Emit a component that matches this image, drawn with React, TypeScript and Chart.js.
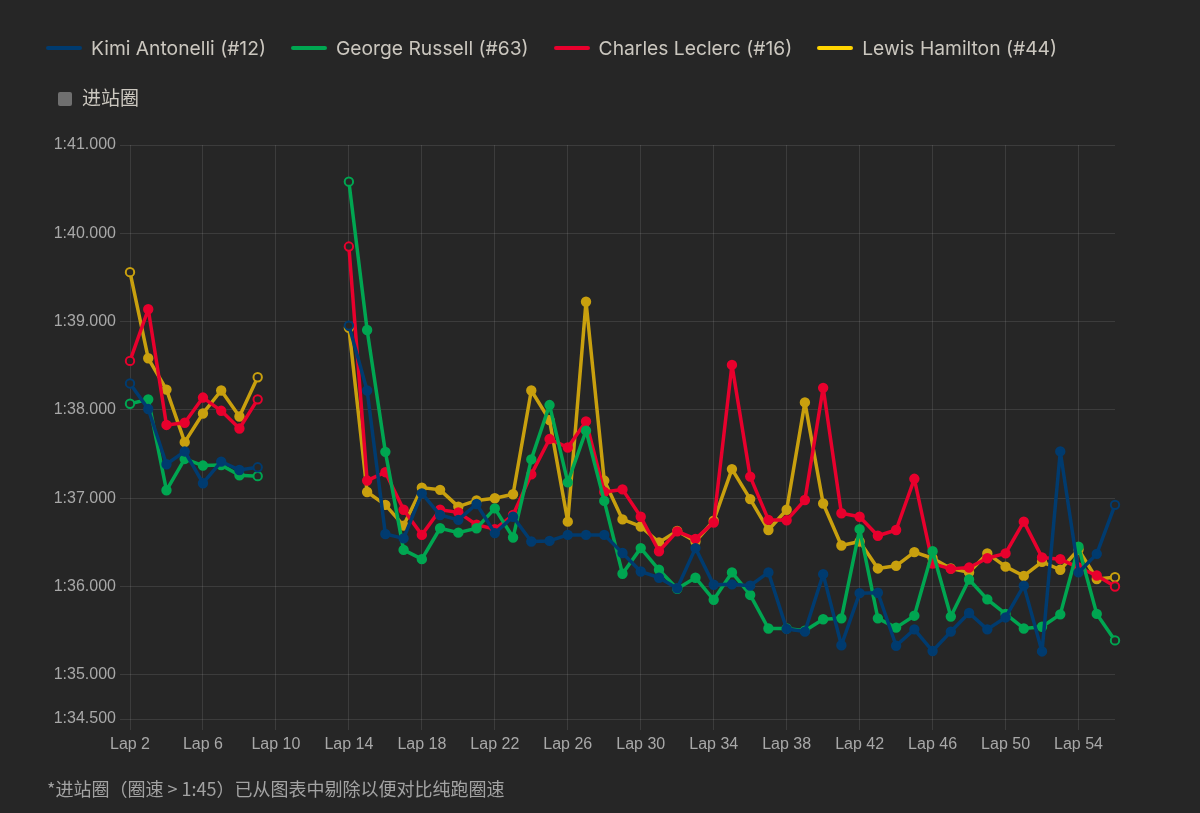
import React, { useEffect, useRef } from "react";
import { Chart, registerables } from "chart.js";

Chart.register(...registerables);

const BG = "#262626";
const GRID = "rgba(255,255,255,0.1)";
const TICK_COLOR = "#a8a8a8";
const LEGEND_TEXT = "#cbc7bf";

const laps = [
  "Lap 2", "Lap 3", "Lap 4", "Lap 5", "Lap 6", "Lap 7", "Lap 8", "Lap 9",
  "Lap 10", "Lap 11", "Lap 12", "Lap 13", "Lap 14", "Lap 15", "Lap 16", "Lap 17",
  "Lap 18", "Lap 19", "Lap 20", "Lap 21", "Lap 22", "Lap 23", "Lap 24", "Lap 25",
  "Lap 26", "Lap 27", "Lap 28", "Lap 29", "Lap 30", "Lap 31", "Lap 32", "Lap 33",
  "Lap 34", "Lap 35", "Lap 36", "Lap 37", "Lap 38", "Lap 39", "Lap 40", "Lap 41",
  "Lap 42", "Lap 43", "Lap 44", "Lap 45", "Lap 46", "Lap 47", "Lap 48", "Lap 49",
  "Lap 50", "Lap 51", "Lap 52", "Lap 53", "Lap 54", "Lap 55", "Lap 56",
];

// lap times in seconds (null = pit laps removed)
const antonelli = [
  98.30, 98.01, 97.385, 97.53, 97.17, 97.415, 97.32, 97.35,
  null, null, null, null,
  98.955, 98.22, 96.595, 96.545, 97.055, 96.81, 96.755, 96.935, 96.605, 96.79,
  96.51, 96.517, 96.585, 96.585, 96.585, 96.38, 96.17, 96.10, 95.98, 96.435,
  96.02, 96.025, 96.01, 96.16, 95.52, 95.49, 96.14, 95.335, 95.925, 95.93,
  95.33, 95.515, 95.27, 95.49, 95.70, 95.515, 95.65, 96.01, 95.265, 97.53,
  96.16, 96.37, 96.925,
];

const russell = [
  98.07, 98.12, 97.09, 97.445, 97.37, 97.375, 97.26, 97.25,
  null, null, null, null,
  100.585, 98.905, 97.525, 96.415, 96.31, 96.66, 96.61, 96.66, 96.885, 96.555,
  97.44, 98.055, 97.18, 97.765, 96.97, 96.145, 96.435, 96.19, 95.975, 96.10,
  95.85, 96.16, 95.905, 95.525, 95.525, 95.50, 95.63, 95.64, 96.65, 95.64,
  95.535, 95.67, 96.40, 95.66, 96.08, 95.855, 95.69, 95.525, 95.545, 95.685,
  96.45, 95.69, 95.39,
];

const leclerc = [
  98.555, 99.14, 97.83, 97.855, 98.14, 97.99, 97.79, 98.12,
  null, null, null, null,
  99.85, 97.20, 97.295, 96.87, 96.585, 96.87, 96.84, 96.70, 96.65, 96.81,
  97.27, 97.67, 97.575, 97.87, 97.07, 97.10, 96.79, 96.40, 96.625, 96.54,
  96.725, 98.51, 97.245, 96.755, 96.75, 96.98, 98.25, 96.83, 96.79, 96.575,
  96.64, 97.22, 96.26, 96.20, 96.215, 96.32, 96.375, 96.735, 96.33, 96.31,
  96.215, 96.125, 96.0,
];

const hamilton = [
  99.56, 98.585, 98.23, 97.635, 97.96, 98.22, 97.925, 98.37,
  null, null, null, null,
  98.93, 97.07, 96.925, 96.69, 97.12, 97.095, 96.905, 96.975, 97.0, 97.045,
  98.22, 97.885, 96.735, 99.225, 97.20, 96.76, 96.68, 96.50, 96.63, 96.51,
  96.745, 97.33, 96.99, 96.64, 96.87, 98.085, 96.94, 96.465, 96.51, 96.205,
  96.235, 96.39, 96.32, 96.205, 96.16, 96.375, 96.225, 96.12, 96.28, 96.19,
  96.42, 96.085, 96.105,
];

const series = [antonelli, russell, leclerc, hamilton];
const drivers = [
  "Kimi Antonelli (#12)",
  "George Russell (#63)",
  "Charles Leclerc (#16)",
  "Lewis Hamilton (#44)",
];
const lineColors = ["#003B6F", "#00A651", "#E8002D", "#C9A00E"];
const legendColors = ["#003B6F", "#00A651", "#E8002D", "#FFD400"];
const pitLabel = "进站圈";
const pitColor = "#6f6f6f";
const footnote = "*进站圈（圈速 > 1:45）已从图表中剔除以便对比纯跑圈速";

const yMin = 94.5;
const yMax = 101;
const yStep = 1;
const xLabelEvery = 4;

function formatLap(v: number): string {
  const ms = Math.round(v * 1000);
  const m = Math.floor(ms / 60000);
  const rest = ms - m * 60000;
  const s = Math.floor(rest / 1000);
  const milli = rest % 1000;
  return `${m}:${String(s).padStart(2, "0")}.${String(milli).padStart(3, "0")}`;
}

export default function App() {
  const canvasRef = useRef<HTMLCanvasElement | null>(null);

  useEffect(() => {
    document.body.style.margin = "0";
    document.body.style.background = BG;
    document.documentElement.style.background = BG;
    const canvas = canvasRef.current;
    if (!canvas) return;

    const chart = new Chart(canvas, {
      type: "line",
      data: {
        labels: laps,
        datasets: series.map((d, i) => ({
          label: drivers[i],
          data: d,
          borderColor: lineColors[i],
          backgroundColor: lineColors[i],
          borderWidth: 3.5,
          borderJoinStyle: "round" as const,
          borderCapStyle: "round" as const,
          pointRadius: 4.2,
          pointHoverRadius: 4.2,
          pointBorderWidth: 2,
          pointBorderColor: lineColors[i],
          pointBackgroundColor: (ctx: any) => {
            const arr = ctx.dataset.data as (number | null)[];
            const k = ctx.dataIndex;
            const prev = k > 0 ? arr[k - 1] : null;
            const next = k < arr.length - 1 ? arr[k + 1] : null;
            return prev == null || next == null ? BG : lineColors[i];
          },
          tension: 0,
          spanGaps: false,
        })),
      },
      options: {
        responsive: false,
        animation: false,
        layout: { padding: { left: 0, top: 145, right: 85, bottom: 54 } },
        plugins: {
          legend: { display: false },
          tooltip: { enabled: false },
        },
        scales: {
          x: {
            border: { display: false },
            grid: { color: GRID, tickLength: 11, lineWidth: 1 },
            ticks: {
              autoSkip: false,
              maxRotation: 0,
              minRotation: 0,
              color: TICK_COLOR,
              padding: 5,
              font: { size: 16 },
              callback: (_v: any, idx: number) => (idx % xLabelEvery === 0 ? laps[idx] : null),
            },
            afterFit: (s: any) => {
              s.height = 40;
            },
          },
          y: {
            min: yMin,
            max: yMax,
            border: { display: false },
            grid: { color: GRID, tickLength: 10, lineWidth: 1 },
            ticks: {
              stepSize: yStep,
              color: TICK_COLOR,
              padding: 4,
              font: { size: 16 },
              callback: (v: any) => formatLap(Number(v)),
            },
            afterFit: (s: any) => {
              s.width = 130;
            },
          },
        },
      },
    });

    return () => {
      chart.destroy();
    };
  }, []);

  const legendFont = "Inter, 'Noto Sans CJK SC', sans-serif";

  return (
    <div
      style={{
        position: "relative",
        width: 1200,
        height: 813,
        background: BG,
        overflow: "hidden",
      }}
    >
      <canvas
        ref={canvasRef}
        width={1200}
        height={813}
        style={{ position: "absolute", left: 0, top: 0, width: 1200, height: 813 }}
      />
      <div
        style={{
          position: "absolute",
          left: 46,
          top: 36,
          height: 24,
          display: "flex",
          alignItems: "center",
          gap: 25,
          fontFamily: legendFont,
          fontSize: 19.25,
          color: LEGEND_TEXT,
          whiteSpace: "nowrap",
        }}
      >
        {drivers.map((name, i) => (
          <div key={name} style={{ display: "flex", alignItems: "center" }}>
            <span
              style={{
                display: "inline-block",
                width: 36,
                height: 4,
                borderRadius: 2,
                background: legendColors[i],
                marginRight: 9,
              }}
            />
            <span style={{ lineHeight: "24px" }}>{name}</span>
          </div>
        ))}
      </div>
      <div
        style={{
          position: "absolute",
          left: 58,
          top: 87,
          height: 24,
          display: "flex",
          alignItems: "center",
          fontFamily: legendFont,
          fontSize: 19,
          color: LEGEND_TEXT,
          whiteSpace: "nowrap",
        }}
      >
        <span
          style={{
            display: "inline-block",
            width: 14,
            height: 14,
            borderRadius: 2,
            background: pitColor,
            marginRight: 10,
          }}
        />
        <span style={{ lineHeight: "24px" }}>{pitLabel}</span>
      </div>
      <div
        style={{
          position: "absolute",
          left: 47,
          top: 776,
          height: 24,
          lineHeight: "24px",
          fontFamily: "'Noto Sans CJK SC', sans-serif",
          fontSize: 18,
          color: "#a3a3a3",
          whiteSpace: "nowrap",
        }}
      >
        {footnote}
      </div>
    </div>
  );
}
